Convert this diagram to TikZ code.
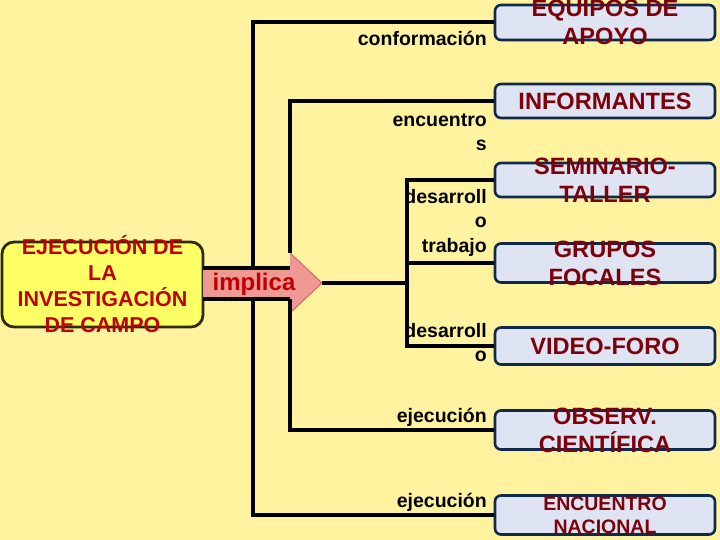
\documentclass[tikz,border=0pt]{standalone}
\usepackage{fontspec}
\setmainfont{Liberation Sans}
\definecolor{bgyellow}{RGB}{255,243,160}
\definecolor{mainfill}{RGB}{255,255,102}
\definecolor{mainline}{RGB}{45,45,10}
\definecolor{boxfill}{RGB}{222,228,242}
\definecolor{boxline}{RGB}{16,40,76}
\definecolor{darkred}{RGB}{125,0,10}
\definecolor{brightred}{RGB}{192,0,0}
\definecolor{arrowpink}{RGB}{240,152,148}
\definecolor{arrowedge}{RGB}{205,105,105}

\begin{document}
\begin{tikzpicture}[x=1pt,y=-1pt,
 tree/.style={line width=4pt},
 mainbox/.style={draw=mainline,line width=2.8pt,fill=mainfill,rounded corners=12pt,
  minimum width=201pt,minimum height=85pt},
 rbox/.style={draw=boxline,line width=2.6pt,fill=boxfill,rounded corners=6pt,
  minimum width=220pt,minimum height=36pt},
 rtext/.style={text=darkred,align=center,inner sep=0pt,font=\bfseries\fontsize{23.6}{28}\selectfont},
 lab/.style={anchor=north east,inner sep=0pt,align=right,font=\bfseries\fontsize{19.5}{24.5}\selectfont}]
 \fill[bgyellow] (0,0) rectangle (720,540);
 \useasboundingbox (0,0) rectangle (720,540);

 % right column
 \node[rbox,minimum height=35pt] (eq) at (605,22.5) {};
 \node[rbox,minimum height=34pt] (inf) at (605,101) {};
 \node[rbox,minimum height=34pt] (sem) at (605,180) {};
 \node[rbox,minimum height=39pt] (gru) at (605,263) {};
 \node[rbox,minimum height=37pt] (vid) at (605,346) {};
 \node[rbox,minimum height=39pt] (obs) at (605,430) {};
 \node[rbox,minimum height=39pt] (enc) at (605,515) {};
 \node[rtext] (eqt) at (eq) {EQUIPOS DE\\APOYO};
 \node[rtext] (inft) at (inf) {INFORMANTES};
 \node[rtext] (semt) at (sem) {SEMINARIO-\\TALLER};
 \node[rtext] (grut) at (gru) {GRUPOS\\FOCALES};
 \node[rtext] (vidt) at (vid) {VIDEO-FORO};
 \node[rtext] (obst) at (obs) {OBSERV.\\CIENTÍFICA};
 \node[rtext,font=\bfseries\fontsize{19.5}{23}\selectfont] (enct) at (enc) {ENCUENTRO\\NACIONAL};

 % main box and arrow
 \node[mainbox] (main) at (102.5,284.5) {};
 \node[text=brightred,align=center,inner sep=0pt,font=\bfseries\fontsize{21.5}{26}\selectfont]
  (maint) at (main) {EJECUCIÓN DE\\LA\\INVESTIGACIÓN\\DE CAMPO};
 \coordinate (ab1) at (203,268);
 \coordinate (ab2) at (290,268);
 \coordinate (ab3) at (290,253);
 \coordinate (tip) at (322,283);
 \coordinate (ab4) at (290,313);
 \coordinate (ab5) at (290,299);
 \coordinate (ab6) at (203,299);
 \coordinate (j1) at (253,268);
 \coordinate (j2) at (253,299);
 \coordinate (k1) at (407,346);
 \fill[arrowpink] (ab1)--(ab2)--(ab3)--(tip)--(ab4)--(ab5)--(ab6)--cycle;
 \draw[arrowedge,line width=1pt] (ab3)--(tip)--(ab4);
 \node[text=brightred,inner sep=0pt,font=\bfseries\fontsize{24}{28}\selectfont] (imp) at (254,284) {implica};

 % connectors
 \draw[tree] (eq.west) -| (j1);
 \draw[tree] (inf.west) -| (ab3);
 \draw[tree] (ab1) -- (ab2);
 \draw[tree] (ab6) -- (ab5);
 \draw[tree] (obs.west) -| (ab5);
 \draw[tree] (enc.west) -| (j2);
 \draw[tree] (sem.west) -| (k1) -- (vid.west);
 \draw[tree] (gru.west) -- (gru.west -| k1);
 \draw[tree] (tip) -- (tip -| k1);

 % labels
 \node[lab] (conf) at (487,31.5) {conformación};
 \node[lab] (encu) at (487,113.5) {encuentro\\s};
 \node[lab] (desa) at (487,189) {desarroll\\o\\trabajo};
 \node[lab] (desb) at (487,323) {desarroll\\o};
 \node[lab] (ejea) at (487,407.5) {ejecución};
 \node[lab] (ejeb) at (487,492.5) {ejecución};
\end{tikzpicture}
\end{document}
